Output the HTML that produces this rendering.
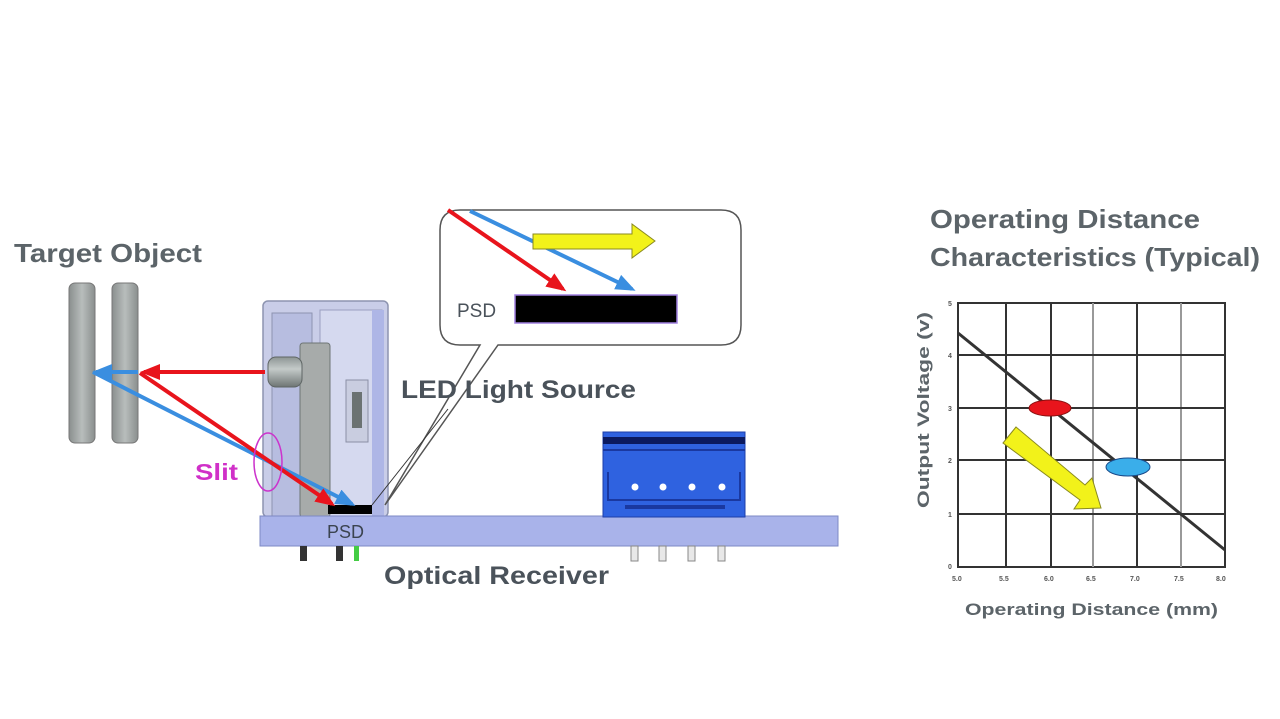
<!DOCTYPE html>
<html><head><meta charset="utf-8"><style>
html,body{margin:0;padding:0;background:#fff;}
svg{display:block;}
text{font-family:"Liberation Sans",sans-serif;font-weight:bold;}
</style></head><body>
<svg width="1280" height="719" viewBox="0 0 1280 719" xmlns="http://www.w3.org/2000/svg">
<defs>
<marker id="ar" markerWidth="5" markerHeight="4" refX="4" refY="2" orient="auto" markerUnits="strokeWidth"><path d="M0,0 L5,2 L0,4 Z" fill="#e8141c"/></marker>
<marker id="ab" markerWidth="5" markerHeight="4" refX="4" refY="2" orient="auto" markerUnits="strokeWidth"><path d="M0,0 L5,2 L0,4 Z" fill="#3a8ee0"/></marker>
<linearGradient id="bar" x1="0" x2="1"><stop offset="0" stop-color="#8a8f8e"/><stop offset="0.5" stop-color="#b8bdbc"/><stop offset="1" stop-color="#8a8f8e"/></linearGradient>
<linearGradient id="cyl" x1="0" y1="0" x2="0" y2="1"><stop offset="0" stop-color="#8d9594"/><stop offset="0.4" stop-color="#c4cac9"/><stop offset="1" stop-color="#6e7574"/></linearGradient>
</defs>

<text x="14" y="262" font-size="26" fill="#5c6469" textLength="188" lengthAdjust="spacingAndGlyphs">Target Object</text>
<text x="930" y="228" font-size="26" fill="#5c6469" textLength="270" lengthAdjust="spacingAndGlyphs">Operating Distance</text>
<text x="930" y="266" font-size="26" fill="#5c6469" textLength="330" lengthAdjust="spacingAndGlyphs">Characteristics (Typical)</text>

<rect x="69" y="283" width="26" height="160" rx="6" fill="url(#bar)" stroke="#777" stroke-width="1"/>
<rect x="112" y="283" width="26" height="160" rx="6" fill="url(#bar)" stroke="#777" stroke-width="1"/>

<rect x="263" y="301" width="125" height="216" rx="5" fill="#c9cde8" stroke="#8d94b0" stroke-width="1.5"/>
<rect x="272" y="313" width="40" height="204" fill="#b7bde0" stroke="#8d94b0"/>
<rect x="320" y="310" width="62" height="207" fill="#d5d9ef" stroke="#9aa0c0"/>
<rect x="372" y="310" width="12" height="207" fill="#aeb6e6"/>
<rect x="300" y="343" width="30" height="174" rx="3" fill="#a7abaa" stroke="#6e7574"/>
<rect x="268" y="357" width="34" height="30" rx="8" fill="url(#cyl)" stroke="#5f6665"/>
<rect x="346" y="380" width="22" height="62" fill="#c9cde0" stroke="#8a90a6"/>
<rect x="352" y="392" width="10" height="36" fill="#6b7272"/>
<rect x="328" y="505" width="44" height="9" fill="#000"/>

<rect x="260" y="516" width="578" height="30" fill="#a9b3ea" stroke="#7d88c4"/>
<text x="327" y="538" font-size="18" fill="#3b4450" style="font-weight:normal">PSD</text>
<rect x="300" y="546" width="7" height="15" fill="#333"/>
<rect x="336" y="546" width="7" height="15" fill="#333"/>
<rect x="354" y="546" width="5" height="15" fill="#44cc44"/>
<g fill="#e8e8e8" stroke="#888"><rect x="631" y="546" width="7" height="15"/><rect x="659" y="546" width="7" height="15"/><rect x="688" y="546" width="7" height="15"/><rect x="718" y="546" width="7" height="15"/></g>

<rect x="603" y="432" width="142" height="85" fill="#2f62e0" stroke="#1d3fa8"/>
<rect x="603" y="437" width="142" height="7" fill="#0b1a60"/>
<rect x="603" y="449" width="142" height="2" fill="#1a38a0"/>
<path d="M608 472 V500 H740 V472" fill="none" stroke="#1a38a0" stroke-width="2"/>
<g fill="#fff"><circle cx="635" cy="487" r="3.5"/><circle cx="663" cy="487" r="3.5"/><circle cx="692" cy="487" r="3.5"/><circle cx="722" cy="487" r="3.5"/></g>
<rect x="625" y="505" width="100" height="4" fill="#1a38a0"/>

<line x1="265" y1="372" x2="144" y2="372" stroke="#e8141c" stroke-width="4" marker-end="url(#ar)"/>
<line x1="138" y1="372" x2="96" y2="372" stroke="#3a8ee0" stroke-width="4" marker-end="url(#ab)"/>
<line x1="93" y1="372" x2="352" y2="504" stroke="#3a8ee0" stroke-width="4" marker-end="url(#ab)"/>
<line x1="140" y1="373" x2="332" y2="504" stroke="#e8141c" stroke-width="4" marker-end="url(#ar)"/>

<ellipse cx="268" cy="462" rx="14" ry="29" fill="none" stroke="#cc33cc" stroke-width="1.5"/>
<text x="195" y="480" font-size="23" fill="#d030c8" textLength="43" lengthAdjust="spacingAndGlyphs">Slit</text>

<path d="M460 210 H721 Q741 210 741 230 V325 Q741 345 721 345 H498 L385 505 L480 345 H460 Q440 345 440 325 V230 Q440 210 460 210 Z" fill="#fff" stroke="#555" stroke-width="1.5"/>
<line x1="372" y1="505" x2="448" y2="409" stroke="#333" stroke-width="1"/>
<line x1="448" y1="210" x2="563" y2="289" stroke="#e8141c" stroke-width="4" marker-end="url(#ar)"/>
<line x1="470" y1="211" x2="632" y2="289" stroke="#3a8ee0" stroke-width="4" marker-end="url(#ab)"/>
<path d="M533 234 H632 V224 L655 241 L632 258 V249 H533 Z" fill="#f2f21a" stroke="#8a8a20" stroke-width="1"/>
<rect x="515" y="295" width="162" height="28" fill="#000" stroke="#a080e0" stroke-width="1.5"/>
<text x="457" y="317" font-size="19" fill="#4a525a" style="font-weight:normal">PSD</text>

<text x="401" y="398" font-size="25" fill="#4a525a" textLength="235" lengthAdjust="spacingAndGlyphs">LED Light Source</text>
<text x="384" y="584" font-size="25" fill="#4a525a" textLength="225" lengthAdjust="spacingAndGlyphs">Optical Receiver</text>

<g stroke="#333" stroke-width="2" fill="none">
<rect x="958" y="303" width="267" height="264" fill="#fff"/>
<line x1="1006" y1="303" x2="1006" y2="567"/>
<line x1="1051" y1="303" x2="1051" y2="567"/>
<line x1="1093" y1="303" x2="1093" y2="567" stroke="#999"/>
<line x1="1137" y1="303" x2="1137" y2="567"/>
<line x1="1181" y1="303" x2="1181" y2="567" stroke="#999"/>
<line x1="958" y1="355" x2="1225" y2="355"/>
<line x1="958" y1="408" x2="1225" y2="408"/>
<line x1="958" y1="460" x2="1225" y2="460"/>
<line x1="958" y1="514" x2="1225" y2="514"/>
<line x1="958" y1="333" x2="1225" y2="550" stroke="#333" stroke-width="3"/>
</g>
<ellipse cx="1050" cy="408" rx="21" ry="8" fill="#e8141c" stroke="#8a1010"/>
<ellipse cx="1128" cy="467" rx="22" ry="9" fill="#3aaeea" stroke="#1a4a8a"/>
<path d="M1003 443 L1016 427 L1085 485 L1092 478 L1101 508 L1074 509 L1080 500 Z" fill="#f2f21a" stroke="#8a8a20"/>
<g font-size="7" fill="#555" style="font-weight:normal">
<text x="948" y="306">5</text><text x="948" y="358">4</text><text x="948" y="411">3</text><text x="948" y="463">2</text><text x="948" y="517">1</text><text x="948" y="569">0</text>
<text x="952" y="581">5.0</text><text x="999" y="581">5.5</text><text x="1044" y="581">6.0</text><text x="1086" y="581">6.5</text><text x="1130" y="581">7.0</text><text x="1174" y="581">7.5</text><text x="1216" y="581">8.0</text>
</g>
<text x="965" y="615" font-size="17" fill="#5c6469" textLength="253" lengthAdjust="spacingAndGlyphs">Operating Distance (mm)</text>
<text transform="translate(929,508) rotate(-90)" font-size="17" fill="#5c6469" textLength="196" lengthAdjust="spacingAndGlyphs">Output Voltage (v)</text>
</svg>
</body></html>
